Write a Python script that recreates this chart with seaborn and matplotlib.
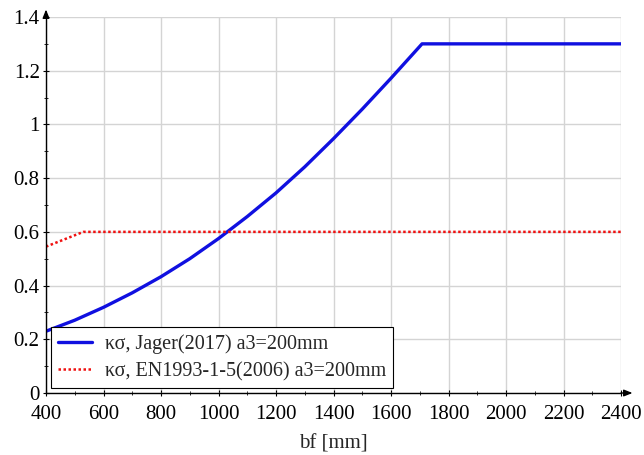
import matplotlib
matplotlib.use("Agg")
import matplotlib.pyplot as plt
from matplotlib.ticker import MultipleLocator, FuncFormatter
import pandas as pd
import seaborn as sns

# Buckling coefficient k_sigma against flange width bf [mm], a3 = 200 mm
bf_jager = [400, 500, 600, 700, 800, 900, 1000, 1100, 1200, 1300, 1400,
            1500, 1600, 1708, 2400]
k_jager = [0.23, 0.271, 0.319, 0.373, 0.433, 0.50, 0.575, 0.657, 0.745,
           0.842, 0.947, 1.057, 1.172, 1.30, 1.30]

bf_en = [400, 530, 2400]
k_en = [0.545, 0.60, 0.60]

label_jager = "κσ, Jager(2017) a3=200mm"
label_en = "κσ, EN1993-1-5(2006) a3=200mm"

x_ticks = [400, 600, 800, 1000, 1200, 1400, 1600, 1800, 2000, 2200, 2400]
y_ticks = [0, 0.2, 0.4, 0.6, 0.8, 1.0, 1.2, 1.4]

df = pd.concat([
    pd.DataFrame({"bf": bf_jager, "k": k_jager, "curve": label_jager}),
    pd.DataFrame({"bf": bf_en, "k": k_en, "curve": label_en}),
], ignore_index=True)

sns.set_style("white")
plt.rcParams["font.family"] = ["Liberation Serif", "DejaVu Serif"]

fig = plt.figure(figsize=(6.44, 4.55), dpi=100)
ax = fig.add_axes([46 / 644, 1 - 393 / 455, 575 / 644, 376 / 455])

sns.lineplot(data=df[df.curve == label_jager], x="bf", y="k", ax=ax,
             color="#1010e0", linewidth=2.4, label=label_jager,
             sort=False, estimator=None)
sns.lineplot(data=df[df.curve == label_en], x="bf", y="k", ax=ax,
             color="#f01010", linewidth=1.8, linestyle=(0, (1, 1)),
             label=label_en, sort=False, estimator=None)

ax.set_xlim(400, 2400)
ax.set_ylim(0, 1.4)
ax.set_xticks(x_ticks)
ax.set_yticks(y_ticks)
ax.xaxis.set_minor_locator(MultipleLocator(100))
ax.yaxis.set_minor_locator(MultipleLocator(0.1))
ax.yaxis.set_major_formatter(FuncFormatter(lambda v, p: f"{v:g}"))

ax.grid(True, which="major", color="#d4d4d4", linewidth=1.0)
ax.set_axisbelow(True)
for s in ("top", "right"):
    ax.spines[s].set_visible(False)
for s in ("left", "bottom"):
    ax.spines[s].set_color("black")
    ax.spines[s].set_linewidth(1.0)

ax.tick_params(axis="both", which="major", direction="inout", length=5,
               width=0.8, labelsize=15, colors="black")
ax.tick_params(axis="x", which="major", pad=6)
ax.tick_params(axis="y", which="major", pad=2)
ax.tick_params(axis="both", which="minor", direction="inout", length=3,
               width=0.6, colors="black")
ax.tick_params(axis="x", which="both", bottom=True)
ax.tick_params(axis="y", which="both", left=True)

# axes extended a little past the data range, ending in arrow heads
arrow = dict(arrowstyle="-|>,head_length=0.5,head_width=0.2", color="black",
             lw=1.0, shrinkA=0, shrinkB=0)
ax.annotate("", xy=(1.02, 0), xytext=(1.0, 0), xycoords="axes fraction",
            arrowprops=arrow, annotation_clip=False)
ax.annotate("", xy=(0, 1.02), xytext=(0, 1.0), xycoords="axes fraction",
            arrowprops=arrow, annotation_clip=False)

ax.set_xlabel("bf [mm]", fontsize=15, labelpad=8)
ax.set_ylabel("")

leg = ax.legend(loc="lower left", bbox_to_anchor=(0.009, 0.013),
                borderaxespad=0, fontsize=14.5, frameon=True, fancybox=False,
                edgecolor="black", framealpha=1, handlelength=1.7,
                borderpad=0.35, labelspacing=0.4, handletextpad=0.6)
leg.get_frame().set_linewidth(0.8)

fig.savefig("out.png", dpi=100)
